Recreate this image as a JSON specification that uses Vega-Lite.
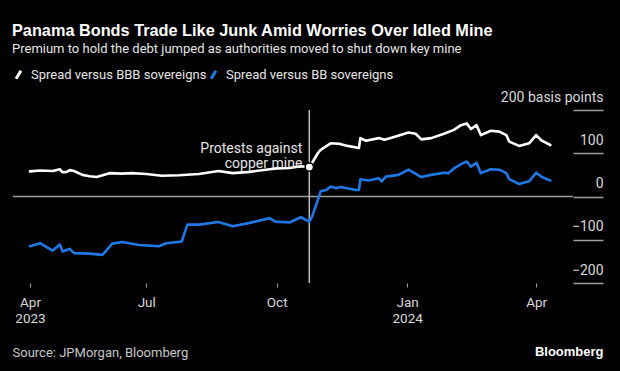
{
  "$schema": "https://vega.github.io/schema/vega-lite/v6.json",
  "width": 560,
  "height": 173,
  "autosize": {"type": "none"},
  "padding": {"left": 13, "top": 110, "right": 47, "bottom": 88},
  "background": "#000000",
  "config": {"view": {"stroke": null}},
  "title": {
    "text": "Panama Bonds Trade Like Junk Amid Worries Over Idled Mine",
    "subtitle": "Premium to hold the debt jumped as authorities moved to shut down key mine",
    "anchor": "start",
    "frame": "group",
    "color": "#ffffff",
    "subtitleColor": "#e6e6e6",
    "font": "Liberation Sans",
    "fontSize": 16.3,
    "fontWeight": "bold",
    "subtitleFont": "Roboto",
    "subtitleFontSize": 13,
    "subtitlePadding": 4,
    "offset": 12,
    "dx": -1
  },
  "datasets": {
    "spreads": [
      {"date": "2023-04-10", "series": "Spread versus BBB sovereigns", "value": 58},
      {"date": "2023-04-17", "series": "Spread versus BBB sovereigns", "value": 60},
      {"date": "2023-04-26", "series": "Spread versus BBB sovereigns", "value": 59},
      {"date": "2023-05-01", "series": "Spread versus BBB sovereigns", "value": 63},
      {"date": "2023-05-03", "series": "Spread versus BBB sovereigns", "value": 56},
      {"date": "2023-05-06", "series": "Spread versus BBB sovereigns", "value": 57},
      {"date": "2023-05-08", "series": "Spread versus BBB sovereigns", "value": 61},
      {"date": "2023-05-11", "series": "Spread versus BBB sovereigns", "value": 59},
      {"date": "2023-05-17", "series": "Spread versus BBB sovereigns", "value": 50},
      {"date": "2023-05-22", "series": "Spread versus BBB sovereigns", "value": 47},
      {"date": "2023-05-27", "series": "Spread versus BBB sovereigns", "value": 45},
      {"date": "2023-06-05", "series": "Spread versus BBB sovereigns", "value": 54},
      {"date": "2023-06-14", "series": "Spread versus BBB sovereigns", "value": 53},
      {"date": "2023-06-21", "series": "Spread versus BBB sovereigns", "value": 54},
      {"date": "2023-07-01", "series": "Spread versus BBB sovereigns", "value": 52},
      {"date": "2023-07-12", "series": "Spread versus BBB sovereigns", "value": 48},
      {"date": "2023-07-24", "series": "Spread versus BBB sovereigns", "value": 49},
      {"date": "2023-08-07", "series": "Spread versus BBB sovereigns", "value": 52},
      {"date": "2023-08-21", "series": "Spread versus BBB sovereigns", "value": 59},
      {"date": "2023-08-31", "series": "Spread versus BBB sovereigns", "value": 54},
      {"date": "2023-09-12", "series": "Spread versus BBB sovereigns", "value": 57},
      {"date": "2023-09-26", "series": "Spread versus BBB sovereigns", "value": 63},
      {"date": "2023-10-01", "series": "Spread versus BBB sovereigns", "value": 65},
      {"date": "2023-10-10", "series": "Spread versus BBB sovereigns", "value": 66},
      {"date": "2023-10-18", "series": "Spread versus BBB sovereigns", "value": 70},
      {"date": "2023-10-24", "series": "Spread versus BBB sovereigns", "value": 68},
      {"date": "2023-10-26", "series": "Spread versus BBB sovereigns", "value": 78},
      {"date": "2023-10-30", "series": "Spread versus BBB sovereigns", "value": 100},
      {"date": "2023-11-01", "series": "Spread versus BBB sovereigns", "value": 108},
      {"date": "2023-11-08", "series": "Spread versus BBB sovereigns", "value": 123},
      {"date": "2023-11-14", "series": "Spread versus BBB sovereigns", "value": 122},
      {"date": "2023-11-20", "series": "Spread versus BBB sovereigns", "value": 117},
      {"date": "2023-11-28", "series": "Spread versus BBB sovereigns", "value": 112},
      {"date": "2023-11-29", "series": "Spread versus BBB sovereigns", "value": 135},
      {"date": "2023-12-03", "series": "Spread versus BBB sovereigns", "value": 129},
      {"date": "2023-12-12", "series": "Spread versus BBB sovereigns", "value": 135},
      {"date": "2023-12-16", "series": "Spread versus BBB sovereigns", "value": 131},
      {"date": "2023-12-21", "series": "Spread versus BBB sovereigns", "value": 136},
      {"date": "2024-01-02", "series": "Spread versus BBB sovereigns", "value": 148},
      {"date": "2024-01-07", "series": "Spread versus BBB sovereigns", "value": 145},
      {"date": "2024-01-11", "series": "Spread versus BBB sovereigns", "value": 132},
      {"date": "2024-01-18", "series": "Spread versus BBB sovereigns", "value": 135},
      {"date": "2024-01-27", "series": "Spread versus BBB sovereigns", "value": 145},
      {"date": "2024-02-03", "series": "Spread versus BBB sovereigns", "value": 154},
      {"date": "2024-02-08", "series": "Spread versus BBB sovereigns", "value": 165},
      {"date": "2024-02-12", "series": "Spread versus BBB sovereigns", "value": 169},
      {"date": "2024-02-15", "series": "Spread versus BBB sovereigns", "value": 156},
      {"date": "2024-02-19", "series": "Spread versus BBB sovereigns", "value": 165},
      {"date": "2024-02-22", "series": "Spread versus BBB sovereigns", "value": 142},
      {"date": "2024-02-29", "series": "Spread versus BBB sovereigns", "value": 152},
      {"date": "2024-03-06", "series": "Spread versus BBB sovereigns", "value": 150},
      {"date": "2024-03-11", "series": "Spread versus BBB sovereigns", "value": 142},
      {"date": "2024-03-13", "series": "Spread versus BBB sovereigns", "value": 127},
      {"date": "2024-03-20", "series": "Spread versus BBB sovereigns", "value": 117},
      {"date": "2024-03-27", "series": "Spread versus BBB sovereigns", "value": 123},
      {"date": "2024-04-01", "series": "Spread versus BBB sovereigns", "value": 142},
      {"date": "2024-04-05", "series": "Spread versus BBB sovereigns", "value": 129},
      {"date": "2024-04-11", "series": "Spread versus BBB sovereigns", "value": 119},
      {"date": "2023-04-10", "series": "Spread versus BB sovereigns", "value": -115},
      {"date": "2023-04-17", "series": "Spread versus BB sovereigns", "value": -108},
      {"date": "2023-04-26", "series": "Spread versus BB sovereigns", "value": -125},
      {"date": "2023-05-01", "series": "Spread versus BB sovereigns", "value": -111},
      {"date": "2023-05-03", "series": "Spread versus BB sovereigns", "value": -127},
      {"date": "2023-05-08", "series": "Spread versus BB sovereigns", "value": -121},
      {"date": "2023-05-11", "series": "Spread versus BB sovereigns", "value": -131},
      {"date": "2023-05-22", "series": "Spread versus BB sovereigns", "value": -132},
      {"date": "2023-05-31", "series": "Spread versus BB sovereigns", "value": -135},
      {"date": "2023-06-02", "series": "Spread versus BB sovereigns", "value": -128},
      {"date": "2023-06-07", "series": "Spread versus BB sovereigns", "value": -109},
      {"date": "2023-06-14", "series": "Spread versus BB sovereigns", "value": -105},
      {"date": "2023-06-26", "series": "Spread versus BB sovereigns", "value": -112},
      {"date": "2023-07-10", "series": "Spread versus BB sovereigns", "value": -115},
      {"date": "2023-07-15", "series": "Spread versus BB sovereigns", "value": -108},
      {"date": "2023-07-26", "series": "Spread versus BB sovereigns", "value": -104},
      {"date": "2023-07-30", "series": "Spread versus BB sovereigns", "value": -65},
      {"date": "2023-08-07", "series": "Spread versus BB sovereigns", "value": -65},
      {"date": "2023-08-21", "series": "Spread versus BB sovereigns", "value": -59},
      {"date": "2023-08-31", "series": "Spread versus BB sovereigns", "value": -69},
      {"date": "2023-09-12", "series": "Spread versus BB sovereigns", "value": -61},
      {"date": "2023-09-26", "series": "Spread versus BB sovereigns", "value": -50},
      {"date": "2023-09-30", "series": "Spread versus BB sovereigns", "value": -58},
      {"date": "2023-10-10", "series": "Spread versus BB sovereigns", "value": -60},
      {"date": "2023-10-18", "series": "Spread versus BB sovereigns", "value": -48},
      {"date": "2023-10-24", "series": "Spread versus BB sovereigns", "value": -58},
      {"date": "2023-10-26", "series": "Spread versus BB sovereigns", "value": -46},
      {"date": "2023-10-30", "series": "Spread versus BB sovereigns", "value": -8},
      {"date": "2023-11-01", "series": "Spread versus BB sovereigns", "value": 12},
      {"date": "2023-11-05", "series": "Spread versus BB sovereigns", "value": 15},
      {"date": "2023-11-08", "series": "Spread versus BB sovereigns", "value": 23},
      {"date": "2023-11-12", "series": "Spread versus BB sovereigns", "value": 19},
      {"date": "2023-11-15", "series": "Spread versus BB sovereigns", "value": 22},
      {"date": "2023-11-26", "series": "Spread versus BB sovereigns", "value": 15},
      {"date": "2023-11-28", "series": "Spread versus BB sovereigns", "value": 15},
      {"date": "2023-11-29", "series": "Spread versus BB sovereigns", "value": 40},
      {"date": "2023-12-05", "series": "Spread versus BB sovereigns", "value": 37},
      {"date": "2023-12-12", "series": "Spread versus BB sovereigns", "value": 42},
      {"date": "2023-12-14", "series": "Spread versus BB sovereigns", "value": 35},
      {"date": "2023-12-17", "series": "Spread versus BB sovereigns", "value": 46},
      {"date": "2023-12-26", "series": "Spread versus BB sovereigns", "value": 50},
      {"date": "2024-01-02", "series": "Spread versus BB sovereigns", "value": 62},
      {"date": "2024-01-11", "series": "Spread versus BB sovereigns", "value": 45},
      {"date": "2024-01-18", "series": "Spread versus BB sovereigns", "value": 50},
      {"date": "2024-01-27", "series": "Spread versus BB sovereigns", "value": 55},
      {"date": "2024-01-30", "series": "Spread versus BB sovereigns", "value": 54},
      {"date": "2024-02-03", "series": "Spread versus BB sovereigns", "value": 65},
      {"date": "2024-02-08", "series": "Spread versus BB sovereigns", "value": 75},
      {"date": "2024-02-12", "series": "Spread versus BB sovereigns", "value": 81},
      {"date": "2024-02-15", "series": "Spread versus BB sovereigns", "value": 69},
      {"date": "2024-02-19", "series": "Spread versus BB sovereigns", "value": 78},
      {"date": "2024-02-22", "series": "Spread versus BB sovereigns", "value": 54},
      {"date": "2024-02-29", "series": "Spread versus BB sovereigns", "value": 63},
      {"date": "2024-03-06", "series": "Spread versus BB sovereigns", "value": 62},
      {"date": "2024-03-11", "series": "Spread versus BB sovereigns", "value": 54},
      {"date": "2024-03-13", "series": "Spread versus BB sovereigns", "value": 40},
      {"date": "2024-03-20", "series": "Spread versus BB sovereigns", "value": 29},
      {"date": "2024-03-27", "series": "Spread versus BB sovereigns", "value": 35},
      {"date": "2024-04-01", "series": "Spread versus BB sovereigns", "value": 55},
      {"date": "2024-04-05", "series": "Spread versus BB sovereigns", "value": 45},
      {"date": "2024-04-11", "series": "Spread versus BB sovereigns", "value": 37}
    ],
    "events": [
      {"date": "2023-10-24", "value": 68, "label": ["Protests against", "copper mine"]}
    ],
    "zero": [{"value": 0}]
  },
  "layer": [
    {
      "data": {"name": "zero"},
      "mark": {"type": "rule", "color": "#9e9e9e", "strokeWidth": 1.5},
      "encoding": {
        "y": {"field": "value", "type": "quantitative", "scale": {"domain": [-200, 200], "nice": false, "zero": false}}
      }
    },
    {
      "data": {"name": "events"},
      "mark": {"type": "rule", "color": "#bdbdbd", "strokeWidth": 1.5},
      "encoding": {
        "x": {"field": "date", "type": "temporal", "scale": {"domain": [{"year": 2023, "month": 3, "date": 29, "utc": true}, {"year": 2024, "month": 4, "date": 27, "utc": true}]}}
      }
    },
    {
      "data": {"name": "spreads"},
      "mark": {"type": "line", "strokeWidth": 2.6, "strokeJoin": "round", "strokeCap": "round"},
      "encoding": {
        "x": {
          "field": "date", "type": "temporal",
          "scale": {"domain": [{"year": 2023, "month": 3, "date": 29, "utc": true}, {"year": 2024, "month": 4, "date": 27, "utc": true}]},
          "axis": {
            "values": [
              {"year": 2023, "month": 4, "date": 10, "utc": true},
              {"year": 2023, "month": 7, "date": 1, "utc": true},
              {"year": 2023, "month": 10, "date": 1, "utc": true},
              {"year": 2024, "month": 1, "date": 1, "utc": true},
              {"year": 2024, "month": 4, "date": 1, "utc": true}
            ],
            "labelExpr": "(utcFormat(datum.value, '%m') == '04' && utcFormat(datum.value, '%Y') == '2023') || utcFormat(datum.value, '%m') == '01' ? [utcFormat(datum.value, '%b'), utcFormat(datum.value, '%Y')] : utcFormat(datum.value, '%b')",
            "domain": false,
            "grid": false,
            "tickSize": 4,
            "tickColor": "#9e9e9e",
            "tickWidth": 1,
            "labelPadding": 8,
            "labelFlush": false,
            "labelFontSize": 13.5,
            "labelColor": "#d9d9d9",
            "labelFont": "Roboto",
            "labelLineHeight": 16,
            "labelBaseline": "top",
            "title": "Source: JPMorgan, Bloomberg",
            "titleAnchor": "start",
            "titleAlign": "left",
            "titleBaseline": "middle",
            "titleX": -1,
            "titleY": 69,
            "titleFontSize": 13,
            "titleFontWeight": "normal",
            "titleColor": "#c8c8c8",
            "titleFont": "Roboto"
          }
        },
        "y": {
          "field": "value", "type": "quantitative",
          "scale": {"domain": [-200, 200], "nice": false, "zero": false},
          "axis": {
            "orient": "right",
            "values": [-200, -100, 0, 100, 200],
            "domain": false,
            "grid": false,
            "ticks": true,
            "tickSize": 30,
            "tickColor": "#9e9e9e",
            "tickWidth": 1.5,
            "labelAlign": "right",
            "labelBaseline": "bottom",
            "labelPadding": 0,
            "labelOffset": -6,
            "labelBound": false,
            "labelOverlap": false,
            "labelExpr": "datum.value == 200 ? '200 basis points' : datum.label",
            "labelFontSize": 14,
            "labelColor": "#d9d9d9",
            "labelFont": "Roboto",
            "title": "Bloomberg",
            "titleAngle": 0,
            "titleAlign": "right",
            "titleBaseline": "middle",
            "titleX": 30,
            "titleY": 241,
            "titleFont": "Liberation Sans",
            "titleFontWeight": "bold",
            "titleFontSize": 13,
            "titleColor": "#ffffff"
          }
        },
        "color": {
          "field": "series", "type": "nominal",
          "scale": {"domain": ["Spread versus BBB sovereigns", "Spread versus BB sovereigns"], "range": ["#ffffff", "#1f78e6"]},
          "legend": {
            "orient": "none",
            "legendX": -1,
            "legendY": -42,
            "direction": "horizontal",
            "title": null,
            "symbolType": "M-0.6,1L0.6,-1",
            "symbolSize": 64,
            "symbolStrokeWidth": 3,
            "labelFontSize": 13,
            "labelColor": "#e6e6e6",
            "labelFont": "Roboto",
            "labelLimit": 400,
            "columnPadding": -20,
            "labelOffset": 6
          }
        }
      }
    },
    {
      "data": {"name": "events"},
      "mark": {"type": "point", "filled": true, "fill": "#ffffff", "stroke": "#000000", "strokeWidth": 1.5, "size": 70, "opacity": 1},
      "encoding": {
        "x": {"field": "date", "type": "temporal", "scale": {"domain": [{"year": 2023, "month": 3, "date": 29, "utc": true}, {"year": 2024, "month": 4, "date": 27, "utc": true}]}},
        "y": {"field": "value", "type": "quantitative", "scale": {"domain": [-200, 200], "nice": false, "zero": false}}
      }
    },
    {
      "data": {"name": "events"},
      "mark": {"type": "text", "align": "right", "baseline": "bottom", "dx": -7, "dy": -11, "fontSize": 14, "color": "#e6e6e6", "lineHeight": 15, "font": "Roboto"},
      "encoding": {
        "x": {"field": "date", "type": "temporal", "scale": {"domain": [{"year": 2023, "month": 3, "date": 29, "utc": true}, {"year": 2024, "month": 4, "date": 27, "utc": true}]}},
        "y": {"field": "value", "type": "quantitative", "scale": {"domain": [-200, 200], "nice": false, "zero": false}},
        "text": {"field": "label"}
      }
    }
  ]
}
